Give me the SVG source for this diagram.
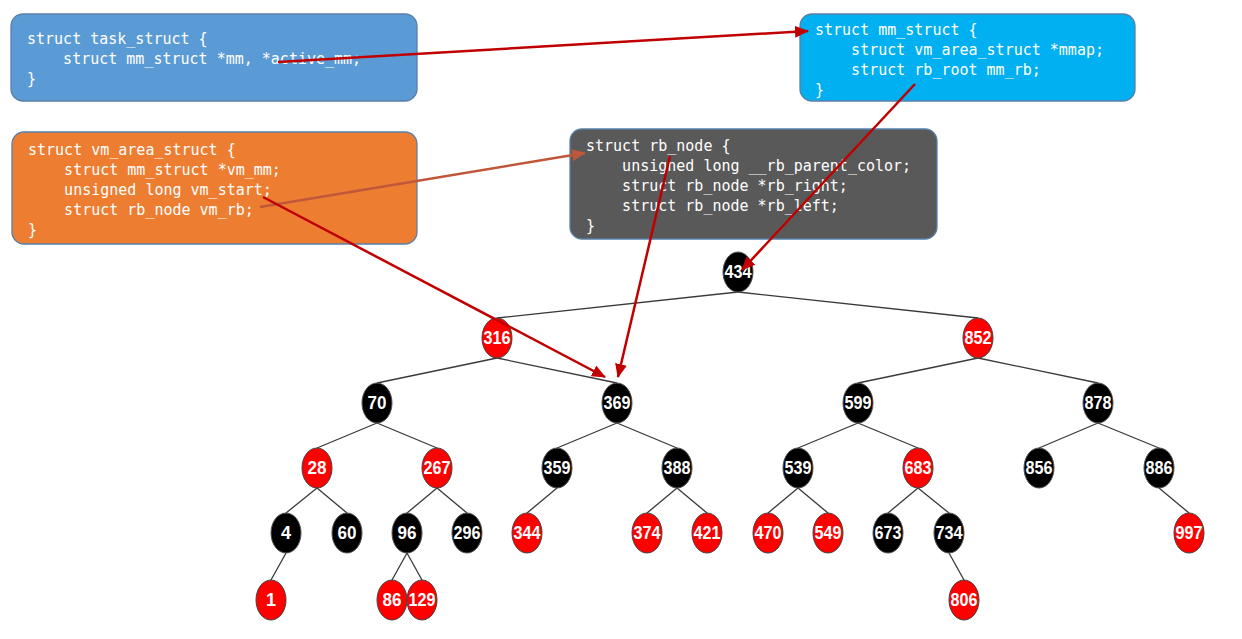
<svg xmlns="http://www.w3.org/2000/svg" width="1242" height="639" viewBox="0 0 1242 639">
<style>
.box{stroke:#5a7fa8;stroke-width:1.3}
.code{font-family:"DejaVu Sans Mono","Liberation Mono",monospace;font-size:15px;fill:#ffffff;white-space:pre}
.edge{stroke:#3a3a3a;stroke-width:1.3;fill:none}
.b ellipse{fill:#000000;stroke:#555555;stroke-width:1}
.r ellipse{fill:#ff0000;stroke:#444444;stroke-width:1}
.n text{font-family:"Liberation Sans",Arial,sans-serif;font-weight:bold;font-size:18px;fill:#ffffff;text-anchor:middle}
.arr{stroke:#c00000;stroke-width:2.5;fill:none;marker-end:url(#ah)}
.arr2{stroke:#c0573a;stroke-width:2.5;fill:none;marker-end:url(#ah2)}
</style>
<defs>
<marker id="ah" markerUnits="userSpaceOnUse" markerWidth="14" markerHeight="12" viewBox="0 0 14 12" refX="13" refY="6" orient="auto"><path d="M0,0 L14,6 L0,12 Z" fill="#c00000"/></marker>
<marker id="ah2" markerUnits="userSpaceOnUse" markerWidth="14" markerHeight="12" viewBox="0 0 14 12" refX="13" refY="6" orient="auto"><path d="M0,0 L14,6 L0,12 Z" fill="#c0573a"/></marker>
</defs>
<rect width="1242" height="639" fill="#ffffff"/>

<g id="task_struct">
<rect class="box" x="11" y="14" width="406" height="87" rx="12" fill="#5b9bd5"/>
<text class="code" x="27" y="44">struct task_struct {</text>
<text class="code" x="27" y="64">    struct mm_struct *mm, *active_mm;</text>
<text class="code" x="27" y="84">}</text>
</g>
<g id="mm_struct">
<rect class="box" x="800" y="14" width="335" height="87" rx="12" fill="#00b0f0"/>
<text class="code" x="815" y="35">struct mm_struct {</text>
<text class="code" x="815" y="55">    struct vm_area_struct *mmap;</text>
<text class="code" x="815" y="75">    struct rb_root mm_rb;</text>
<text class="code" x="815" y="95">}</text>
</g>
<g id="vm_area_struct">
<rect class="box" x="12" y="132" width="405" height="112" rx="12" fill="#ed7d31"/>
<text class="code" x="28" y="155">struct vm_area_struct {</text>
<text class="code" x="28" y="175">    struct mm_struct *vm_mm;</text>
<text class="code" x="28" y="195">    unsigned long vm_start;</text>
<text class="code" x="28" y="215">    struct rb_node vm_rb;</text>
<text class="code" x="28" y="235">}</text>
</g>
<g id="rb_node">
<rect class="box" x="570" y="129" width="367" height="110" rx="12" fill="#595959"/>
<text class="code" x="586" y="151">struct rb_node {</text>
<text class="code" x="586" y="171">    unsigned long __rb_parent_color;</text>
<text class="code" x="586" y="191">    struct rb_node *rb_right;</text>
<text class="code" x="586" y="211">    struct rb_node *rb_left;</text>
<text class="code" x="586" y="231">}</text>
</g>

<g id="tree-edges">
<line class="edge" x1="738" y1="292" x2="497" y2="318"/>
<line class="edge" x1="738" y1="292" x2="978" y2="318"/>
<line class="edge" x1="497" y1="358" x2="377" y2="383"/>
<line class="edge" x1="497" y1="358" x2="617" y2="383"/>
<line class="edge" x1="978" y1="358" x2="858" y2="383"/>
<line class="edge" x1="978" y1="358" x2="1098" y2="383"/>
<line class="edge" x1="377" y1="423" x2="317" y2="448"/>
<line class="edge" x1="377" y1="423" x2="437" y2="448"/>
<line class="edge" x1="617" y1="423" x2="557" y2="448"/>
<line class="edge" x1="617" y1="423" x2="677" y2="448"/>
<line class="edge" x1="858" y1="423" x2="798" y2="448"/>
<line class="edge" x1="858" y1="423" x2="918" y2="448"/>
<line class="edge" x1="1098" y1="423" x2="1039" y2="448"/>
<line class="edge" x1="1098" y1="423" x2="1159" y2="448"/>
<line class="edge" x1="317" y1="488" x2="286" y2="513"/>
<line class="edge" x1="317" y1="488" x2="347" y2="513"/>
<line class="edge" x1="437" y1="488" x2="407" y2="513"/>
<line class="edge" x1="437" y1="488" x2="467" y2="513"/>
<line class="edge" x1="557" y1="488" x2="527" y2="513"/>
<line class="edge" x1="677" y1="488" x2="647" y2="513"/>
<line class="edge" x1="677" y1="488" x2="707" y2="513"/>
<line class="edge" x1="798" y1="488" x2="768" y2="513"/>
<line class="edge" x1="798" y1="488" x2="828" y2="513"/>
<line class="edge" x1="918" y1="488" x2="888" y2="513"/>
<line class="edge" x1="918" y1="488" x2="949" y2="513"/>
<line class="edge" x1="1159" y1="488" x2="1189" y2="513"/>
<line class="edge" x1="286" y1="553" x2="271" y2="580"/>
<line class="edge" x1="407" y1="553" x2="392" y2="580"/>
<line class="edge" x1="407" y1="553" x2="422" y2="580"/>
<line class="edge" x1="949" y1="553" x2="964" y2="580"/>
</g>

<g id="n434" class="n b"><ellipse cx="738" cy="272" rx="15" ry="20"/><text x="738" y="278" textLength="27" lengthAdjust="spacingAndGlyphs">434</text></g>
<g id="n316" class="n r"><ellipse cx="497" cy="338" rx="15" ry="20"/><text x="497" y="344" textLength="27" lengthAdjust="spacingAndGlyphs">316</text></g>
<g id="n852" class="n r"><ellipse cx="978" cy="338" rx="15" ry="20"/><text x="978" y="344" textLength="27" lengthAdjust="spacingAndGlyphs">852</text></g>
<g id="n70" class="n b"><ellipse cx="377" cy="403" rx="15" ry="20"/><text x="377" y="409" textLength="19" lengthAdjust="spacingAndGlyphs">70</text></g>
<g id="n369" class="n b"><ellipse cx="617" cy="403" rx="15" ry="20"/><text x="617" y="409" textLength="27" lengthAdjust="spacingAndGlyphs">369</text></g>
<g id="n599" class="n b"><ellipse cx="858" cy="403" rx="15" ry="20"/><text x="858" y="409" textLength="27" lengthAdjust="spacingAndGlyphs">599</text></g>
<g id="n878" class="n b"><ellipse cx="1098" cy="403" rx="15" ry="20"/><text x="1098" y="409" textLength="27" lengthAdjust="spacingAndGlyphs">878</text></g>
<g id="n28" class="n r"><ellipse cx="317" cy="468" rx="15" ry="20"/><text x="317" y="474" textLength="19" lengthAdjust="spacingAndGlyphs">28</text></g>
<g id="n267" class="n r"><ellipse cx="437" cy="468" rx="15" ry="20"/><text x="437" y="474" textLength="27" lengthAdjust="spacingAndGlyphs">267</text></g>
<g id="n359" class="n b"><ellipse cx="557" cy="468" rx="15" ry="20"/><text x="557" y="474" textLength="27" lengthAdjust="spacingAndGlyphs">359</text></g>
<g id="n388" class="n b"><ellipse cx="677" cy="468" rx="15" ry="20"/><text x="677" y="474" textLength="27" lengthAdjust="spacingAndGlyphs">388</text></g>
<g id="n539" class="n b"><ellipse cx="798" cy="468" rx="15" ry="20"/><text x="798" y="474" textLength="27" lengthAdjust="spacingAndGlyphs">539</text></g>
<g id="n683" class="n r"><ellipse cx="918" cy="468" rx="15" ry="20"/><text x="918" y="474" textLength="27" lengthAdjust="spacingAndGlyphs">683</text></g>
<g id="n856" class="n b"><ellipse cx="1039" cy="468" rx="15" ry="20"/><text x="1039" y="474" textLength="27" lengthAdjust="spacingAndGlyphs">856</text></g>
<g id="n886" class="n b"><ellipse cx="1159" cy="468" rx="15" ry="20"/><text x="1159" y="474" textLength="27" lengthAdjust="spacingAndGlyphs">886</text></g>
<g id="n4" class="n b"><ellipse cx="286" cy="533" rx="15" ry="20"/><text x="286" y="539">4</text></g>
<g id="n60" class="n b"><ellipse cx="347" cy="533" rx="15" ry="20"/><text x="347" y="539" textLength="19" lengthAdjust="spacingAndGlyphs">60</text></g>
<g id="n96" class="n b"><ellipse cx="407" cy="533" rx="15" ry="20"/><text x="407" y="539" textLength="19" lengthAdjust="spacingAndGlyphs">96</text></g>
<g id="n296" class="n b"><ellipse cx="467" cy="533" rx="15" ry="20"/><text x="467" y="539" textLength="27" lengthAdjust="spacingAndGlyphs">296</text></g>
<g id="n344" class="n r"><ellipse cx="527" cy="533" rx="15" ry="20"/><text x="527" y="539" textLength="27" lengthAdjust="spacingAndGlyphs">344</text></g>
<g id="n374" class="n r"><ellipse cx="647" cy="533" rx="15" ry="20"/><text x="647" y="539" textLength="27" lengthAdjust="spacingAndGlyphs">374</text></g>
<g id="n421" class="n r"><ellipse cx="707" cy="533" rx="15" ry="20"/><text x="707" y="539" textLength="27" lengthAdjust="spacingAndGlyphs">421</text></g>
<g id="n470" class="n r"><ellipse cx="768" cy="533" rx="15" ry="20"/><text x="768" y="539" textLength="27" lengthAdjust="spacingAndGlyphs">470</text></g>
<g id="n549" class="n r"><ellipse cx="828" cy="533" rx="15" ry="20"/><text x="828" y="539" textLength="27" lengthAdjust="spacingAndGlyphs">549</text></g>
<g id="n673" class="n b"><ellipse cx="888" cy="533" rx="15" ry="20"/><text x="888" y="539" textLength="27" lengthAdjust="spacingAndGlyphs">673</text></g>
<g id="n734" class="n b"><ellipse cx="949" cy="533" rx="15" ry="20"/><text x="949" y="539" textLength="27" lengthAdjust="spacingAndGlyphs">734</text></g>
<g id="n997" class="n r"><ellipse cx="1189" cy="533" rx="15" ry="20"/><text x="1189" y="539" textLength="27" lengthAdjust="spacingAndGlyphs">997</text></g>
<g id="n1" class="n r"><ellipse cx="271" cy="600" rx="15" ry="20"/><text x="271" y="606">1</text></g>
<g id="n86" class="n r"><ellipse cx="392" cy="600" rx="15" ry="20"/><text x="392" y="606" textLength="19" lengthAdjust="spacingAndGlyphs">86</text></g>
<g id="n129" class="n r"><ellipse cx="422" cy="600" rx="15" ry="20"/><text x="422" y="606" textLength="27" lengthAdjust="spacingAndGlyphs">129</text></g>
<g id="n806" class="n r"><ellipse cx="964" cy="600" rx="15" ry="20"/><text x="964" y="606" textLength="27" lengthAdjust="spacingAndGlyphs">806</text></g>

<g id="connectors">
<line class="arr" x1="278" y1="62" x2="808" y2="31"/>
<line class="arr" x1="915" y1="84" x2="742" y2="270"/>
<line class="arr2" x1="260" y1="207" x2="585" y2="153"/>
<line class="arr" x1="263" y1="197" x2="605" y2="377"/>
<line class="arr" x1="670" y1="156" x2="618" y2="377"/>
</g>
</svg>
